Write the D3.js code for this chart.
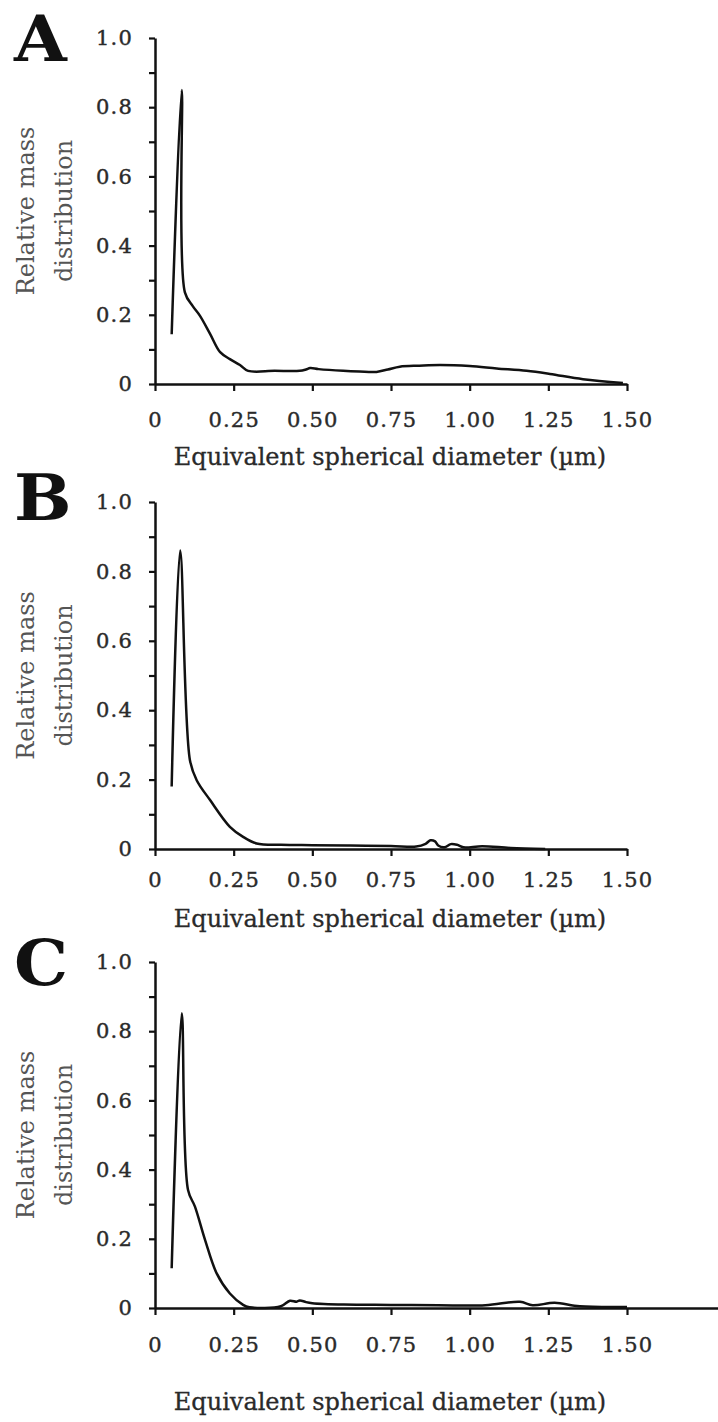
<!DOCTYPE html>
<html>
<head>
<meta charset="utf-8">
<script src="https://cdn.jsdelivr.net/npm/d3@7/dist/d3.min.js"></script>
<style>
  body { margin: 0; background: #fff; }
  svg { display: block; }
</style>
</head>
<body>
<script>
// tick values shared by the three panels
var xTicks = [0, 0.25, 0.5, 0.75, 1.0, 1.25, 1.5];
var xTickLabels = ["0", "0.25", "0.50", "0.75", "1.00", "1.25", "1.50"];
var yTicks = [0, 0.1, 0.2, 0.3, 0.4, 0.5, 0.6, 0.7, 0.8, 0.9, 1.0];
var yTickLabels = {0: "0", 0.2: "0.2", 0.4: "0.4", 0.6: "0.6", 0.8: "0.8", 1.0: "1.0"};
var panelNames = ["A", "B", "C"];

// panel A
var sizeA = [0.053, 0.085, 0.095, 0.12, 0.143, 0.175, 0.207, 0.238, 0.27, 0.296, 0.38, 0.46, 0.48, 0.493, 0.52, 0.598, 0.65, 0.704, 0.74, 0.778, 0.84, 0.906, 1.0, 1.086, 1.181, 1.255, 1.36, 1.487];
var massA = [0.144, 0.85, 0.265, 0.225, 0.197, 0.145, 0.092, 0.072, 0.055, 0.038, 0.038, 0.038, 0.042, 0.046, 0.043, 0.038, 0.036, 0.035, 0.042, 0.05, 0.053, 0.055, 0.052, 0.045, 0.038, 0.029, 0.014, 0.003];

// panel B
var sizeB = [0.053, 0.08, 0.111, 0.132, 0.175, 0.238, 0.28, 0.323, 0.4, 0.5, 0.62, 0.75, 0.83, 0.86, 0.875, 0.89, 0.9, 0.92, 0.94, 0.96, 0.98, 1.04, 1.13, 1.24];
var massB = [0.18, 0.86, 0.256, 0.199, 0.141, 0.064, 0.035, 0.016, 0.012, 0.011, 0.01, 0.009, 0.007, 0.015, 0.025, 0.022, 0.01, 0.005, 0.014, 0.012, 0.005, 0.008, 0.003, 0.0];

// panel C
var sizeC = [0.053, 0.085, 0.105, 0.127, 0.159, 0.196, 0.238, 0.28, 0.3, 0.4, 0.429, 0.45, 0.46, 0.48, 0.5, 0.6, 0.75, 0.9, 1.05, 1.16, 1.2, 1.27, 1.35, 1.5];
var massC = [0.115, 0.852, 0.341, 0.293, 0.197, 0.1, 0.042, 0.009, 0.002, 0.005, 0.021, 0.018, 0.022, 0.017, 0.014, 0.01, 0.009, 0.008, 0.008, 0.018, 0.008, 0.015, 0.005, 0.003];

var panelSizes = [sizeA, sizeB, sizeC];
var panelMasses = [massA, massB, massC];

var W = 718, H = 1422;
var axisLeft = 155, axisRight = 627;
// y of value 0 and 1 per panel, tick label centre and title baseline below the axis
var layout = [
  {bottom: 384, top: 38, letterY: 61, labelMid: 36, titleDy: 81, xEnd: 627},
  {bottom: 849, top: 502, letterY: 520, labelMid: 31, titleDy: 78, xEnd: 627},
  {bottom: 1308, top: 962, letterY: 985, labelMid: 37, titleDy: 102, xEnd: 718}
];

var svg = d3.select("body").append("svg")
  .attr("width", W)
  .attr("height", H);

var serif = "'DejaVu Serif', 'Liberation Serif', serif";
var tickFont = 21;

panelNames.forEach(function(name, i) {
  var L = layout[i];
  var pxPerUnit = (axisRight - axisLeft) / 1.5;
  var x = d3.scaleLinear()
    .domain([0, (L.xEnd - axisLeft) / pxPerUnit])
    .range([axisLeft, L.xEnd]);
  var y = d3.scaleLinear().domain([0, 1]).range([L.bottom, L.top]);

  var g = svg.append("g");

  // x axis
  var xAxis = d3.axisBottom(x)
    .tickValues(xTicks)
    .tickFormat(function(d, k) { return xTickLabels[k]; })
    .tickSize(7)
    .tickSizeOuter(0)
    .tickPadding(L.labelMid - 14.5);
  var gx = g.append("g")
    .attr("transform", "translate(0," + L.bottom + ")")
    .call(xAxis);

  // y axis
  var yAxis = d3.axisLeft(y)
    .tickValues(yTicks)
    .tickFormat(function(d) { var k = Math.round(d * 10) / 10; return yTickLabels[k] || ""; })
    .tickSize(6)
    .tickSizeOuter(0)
    .tickPadding(16);
  var gy = g.append("g")
    .attr("transform", "translate(" + axisLeft + ",0)")
    .call(yAxis);

  g.selectAll(".domain").attr("stroke", "#111").attr("stroke-width", 2.5);
  g.selectAll(".tick line").attr("stroke", "#111").attr("stroke-width", 2.2);
  g.selectAll(".tick text")
    .attr("fill", "#2a2a2a")
    .attr("stroke", "#2a2a2a")
    .attr("stroke-width", 0.4)
    .style("font-family", serif)
    .style("font-size", tickFont + "px")
    .style("letter-spacing", "1.2px");
  gx.selectAll(".tick text").attr("dy", "0.71em");

  // curve
  var pts = panelSizes[i].map(function(s, k) { return [s, panelMasses[i][k]]; });
  g.append("path")
    .datum(pts)
    .attr("fill", "none")
    .attr("stroke", "#111")
    .attr("stroke-width", 2.5)
    .attr("stroke-linejoin", "round")
    .attr("d", d3.line()
      .x(function(d) { return x(d[0]); })
      .y(function(d) { return y(d[1]); })
      .curve(d3.curveCatmullRom.alpha(0.5)));

  // panel letter
  g.append("text")
    .attr("transform", "translate(14," + L.letterY + ") scale(1.08,1)")
    .style("font-family", "'DejaVu Serif', serif")
    .style("font-weight", "bold")
    .style("font-size", "63px")
    .attr("fill", "#111")
    .text(name);

  // y title, two lines rotated
  var cy = (L.top + L.bottom) / 2;
  var yTitle = g.append("text")
    .attr("transform", "translate(0," + cy + ") rotate(-90)")
    .attr("text-anchor", "middle")
    .style("font-family", serif)
    .style("font-size", "24px")
    .attr("fill", "#555");
  yTitle.append("tspan").attr("x", 0).attr("y", 34).text("Relative mass");
  yTitle.append("tspan").attr("x", 0).attr("y", 72).text("distribution");

  // x title
  g.append("text")
    .attr("x", 390)
    .attr("y", L.bottom + L.titleDy)
    .attr("text-anchor", "middle")
    .style("font-family", serif)
    .style("font-size", "24px")
    .attr("fill", "#2a2a2a")
    .attr("stroke", "#2a2a2a")
    .attr("stroke-width", 0.3)
    .text("Equivalent spherical diameter (\u00b5m)");
});
</script>
</body>
</html>
